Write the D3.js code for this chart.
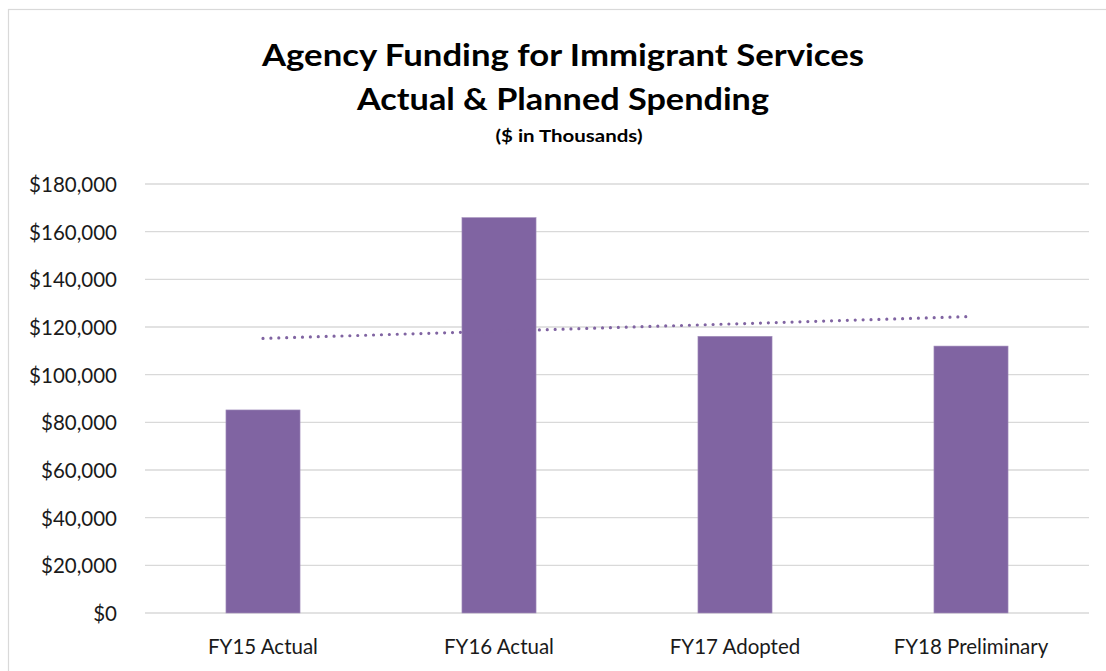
<!DOCTYPE html>
<html>
<head>
<meta charset="utf-8">
<script src="https://cdn.jsdelivr.net/npm/d3@7/dist/d3.min.js"></script>
<style>
  html, body { margin: 0; padding: 0; background: #ffffff; }
  svg { display: block; font-family: Lato, "Open Sans", "Noto Sans", sans-serif; }
</style>
</head>
<body>
<svg id="chart" width="1106" height="671"></svg>
<script>
// Spending by fiscal year, in thousands of dollars
const categories = ["FY15 Actual", "FY16 Actual", "FY17 Adopted", "FY18 Preliminary"];
const spending = [85200, 165900, 116100, 112000];
const yTicks = [0, 20000, 40000, 60000, 80000, 100000, 120000, 140000, 160000, 180000];
const titleLines = ["Agency Funding for Immigrant Services", "Actual & Planned Spending"];
const subtitle = "($ in Thousands)";

const W = 1106, H = 671;
const margin = { left: 145, right: 17, top: 184, bottom: 58 };
const purple = "#8064a2";

const svg = d3.select("#chart");

// outer chart frame
svg.append("rect")
  .attr("x", 8.5).attr("y", 9.5)
  .attr("width", W + 20).attr("height", H + 20)
  .attr("fill", "none").attr("stroke", "#d9d9d9").attr("stroke-width", 1.2);

const x = d3.scaleBand()
  .domain(categories)
  .range([margin.left, W - margin.right])
  .paddingInner(0.686)
  .paddingOuter(0.343);

const y = d3.scaleLinear()
  .domain([0, 180000])
  .range([H - margin.bottom, margin.top]);

// horizontal gridlines
svg.append("g")
  .selectAll("line")
  .data(yTicks)
  .join("line")
  .attr("x1", margin.left).attr("x2", W - margin.right)
  .attr("y1", d => y(d)).attr("y2", d => y(d))
  .attr("stroke", "#d9d9d9").attr("stroke-width", 1.4);

// y axis labels
const fmt = d3.format(",");
const yAxis = d3.axisLeft(y).tickValues(yTicks).tickSize(0).tickPadding(28)
  .tickFormat(d => "$" + fmt(d));
svg.append("g")
  .attr("transform", `translate(${margin.left},0)`)
  .call(yAxis)
  .call(g => g.select(".domain").remove())
  .call(g => g.selectAll("text")
    .attr("font-family", "Lato, 'Open Sans', sans-serif")
    .attr("font-size", 20.5)
    .attr("fill", "#1a1a1a")
    .attr("dy", "0.36em"));

// bars
svg.append("g")
  .selectAll("rect")
  .data(categories)
  .join("rect")
  .attr("x", d => x(d))
  .attr("y", (d, i) => y(spending[i]))
  .attr("width", x.bandwidth())
  .attr("height", (d, i) => y(0) - y(spending[i]))
  .attr("fill", purple)
  .attr("stroke", "#a592bd").attr("stroke-width", 0.6);

// x axis labels
const xAxis = d3.axisBottom(x).tickSize(0).tickPadding(26);
svg.append("g")
  .attr("transform", `translate(0,${y(0)})`)
  .call(xAxis)
  .call(g => g.select(".domain").remove())
  .call(g => g.selectAll("text")
    .attr("font-family", "Lato, 'Open Sans', sans-serif")
    .attr("font-size", 20.5)
    .attr("fill", "#1a1a1a"));

// linear trendline (least squares over category index)
const n = spending.length;
const idx = d3.range(n);
const mx = d3.mean(idx), my = d3.mean(spending);
const slope = d3.sum(idx, i => (i - mx) * (spending[i] - my)) / d3.sum(idx, i => (i - mx) ** 2);
const intercept = my - slope * mx;
const trend = [0, n - 1].map(i => ({ c: categories[i], v: intercept + slope * i }));
svg.append("path")
  .datum(trend)
  .attr("d", d3.line().x(d => x(d.c) + x.bandwidth() / 2).y(d => y(d.v)))
  .attr("fill", "none")
  .attr("stroke", purple)
  .attr("stroke-width", 3.2)
  .attr("stroke-linecap", "round")
  .attr("stroke-dasharray", "0 7.9");

// titles
const cx = 563;
svg.append("text")
  .attr("x", cx).attr("y", 66)
  .attr("text-anchor", "middle")
  .attr("font-weight", 700).attr("font-size", 30).attr("fill", "#000")
  .attr("textLength", 602).attr("lengthAdjust", "spacingAndGlyphs")
  .text(titleLines[0]);
svg.append("text")
  .attr("x", cx).attr("y", 110)
  .attr("text-anchor", "middle")
  .attr("font-weight", 700).attr("font-size", 30).attr("fill", "#000")
  .attr("textLength", 412).attr("lengthAdjust", "spacingAndGlyphs")
  .text(titleLines[1]);
svg.append("text")
  .attr("x", 569).attr("y", 142)
  .attr("text-anchor", "middle")
  .attr("font-weight", 700).attr("font-size", 17).attr("fill", "#000")
  .attr("textLength", 147).attr("lengthAdjust", "spacingAndGlyphs")
  .text(subtitle);
</script>
</body>
</html>
